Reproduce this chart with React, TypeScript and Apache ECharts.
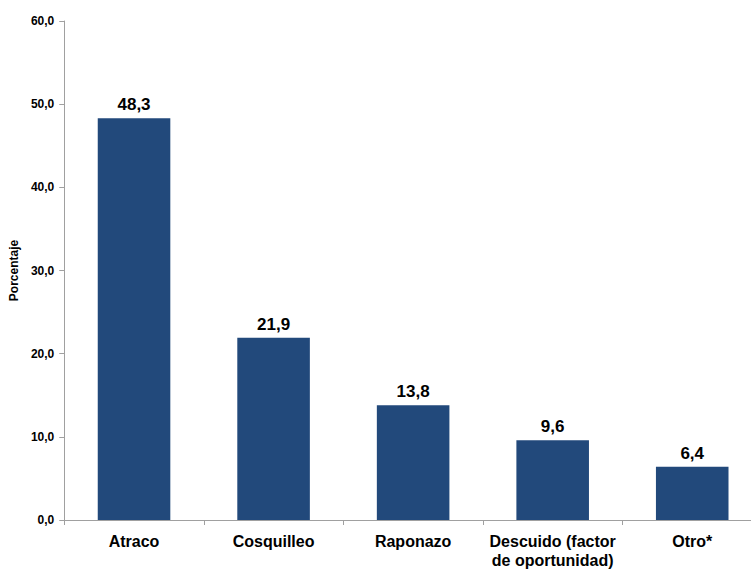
import React, { useEffect, useRef } from "react";
import * as echarts from "echarts";

const categories = ["Atraco", "Cosquilleo", "Raponazo", "Descuido (factor\nde oportunidad)", "Otro*"];
const values = [48.3, 21.9, 13.8, 9.6, 6.4];
const yTicks = { min: 0, max: 60, interval: 10 };
const axisName = "Porcentaje";

const FONT = "'Liberation Sans', Arial, sans-serif";

export default function App() {
  const ref = useRef<HTMLDivElement>(null);
  useEffect(() => {
    document.body.style.margin = "0";
    const chart = echarts.init(ref.current!, null, { renderer: "svg" });
    chart.setOption({
      animation: false,
      backgroundColor: "#ffffff",
      grid: { left: 62, right: 10, top: 21, bottom: 48, containLabel: false },
      xAxis: {
        type: "category",
        data: categories,
        boundaryGap: true,
        axisLine: { lineStyle: { color: "#a0a0a0", width: 1 } },
        axisTick: { show: true, length: 5, lineStyle: { color: "#a0a0a0" } },
        axisLabel: {
          interval: 0,
          color: "#000",
          fontFamily: FONT,
          fontWeight: "bold",
          fontSize: 16,
          margin: 12,
          lineHeight: 19,
        },
      },
      yAxis: {
        type: "value",
        min: yTicks.min,
        max: yTicks.max,
        interval: yTicks.interval,
        name: axisName,
        nameLocation: "middle",
        nameGap: 37,
        nameRotate: 90,
        nameTextStyle: { color: "#000", fontFamily: FONT, fontWeight: "bold", fontSize: 12 },
        axisLine: { show: true, lineStyle: { color: "#a0a0a0", width: 1 } },
        axisTick: { show: true, length: 5, lineStyle: { color: "#a0a0a0" } },
        splitLine: { show: false },
        axisLabel: {
          color: "#000",
          fontFamily: FONT,
          fontWeight: "bold",
          fontSize: 12,
          margin: 10,
          formatter: (v: number) => v.toFixed(1).replace(".", ","),
        },
      },
      series: [
        {
          type: "bar",
          data: values,
          barWidth: "52%",
          itemStyle: { color: "#22497B" },
          label: {
            show: true,
            position: "top",
            distance: 5,
            color: "#000",
            fontFamily: FONT,
            fontWeight: "bold",
            fontSize: 17,
            formatter: (p: any) => Number(p.value).toFixed(1).replace(".", ","),
          },
        },
      ],
    });
    return () => chart.dispose();
  }, []);
  return (
    <div style={{ width: 751, height: 570, overflow: "hidden", position: "relative" }}>
      <div ref={ref} style={{ width: 772, height: 570, position: "absolute", left: 0, top: 0 }} />
    </div>
  );
}
